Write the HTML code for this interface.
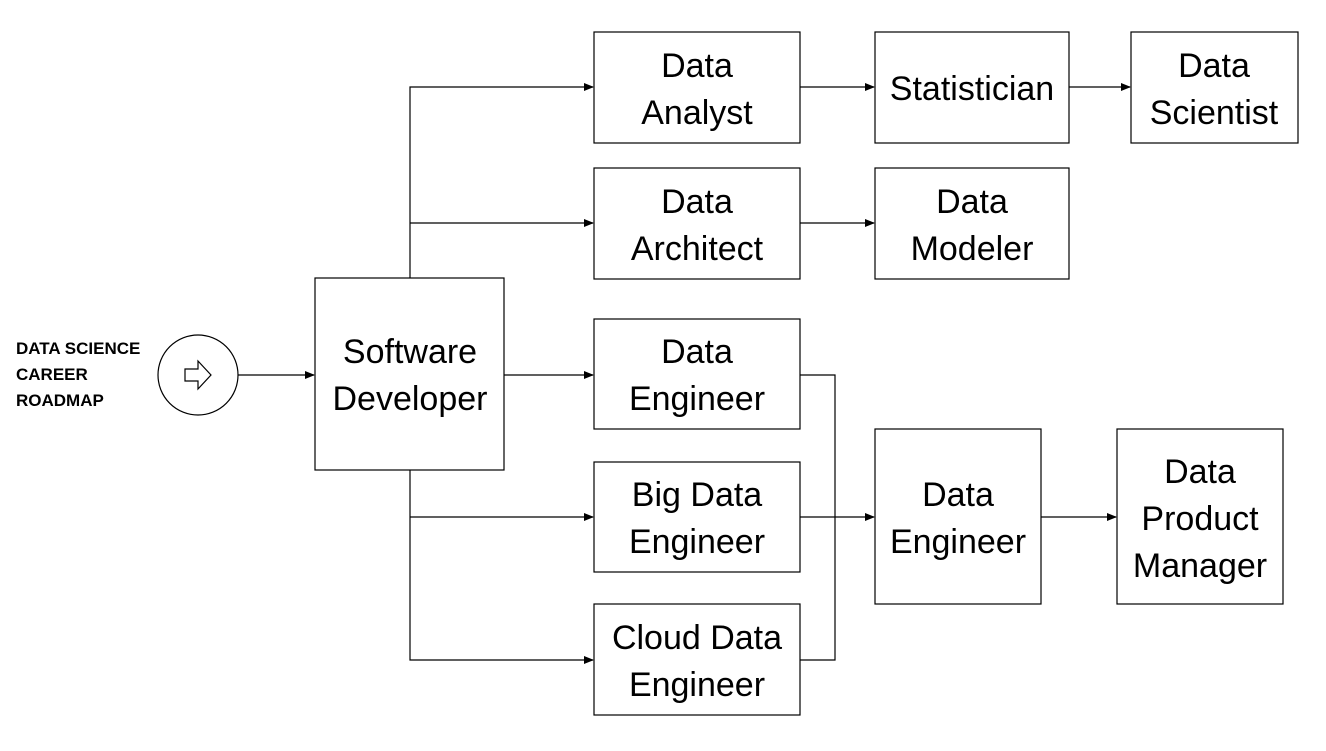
<!DOCTYPE html>
<html><head><meta charset="utf-8"><style>
body{margin:0;background:#fff;}
svg text{font-family:"Liberation Sans",sans-serif;}
</style></head><body>
<svg width="1326" height="746" viewBox="0 0 1326 746" xmlns="http://www.w3.org/2000/svg">
<defs><marker id="a" markerWidth="10" markerHeight="8" refX="9" refY="4" orient="auto" markerUnits="userSpaceOnUse"><path d="M0,0 L10,4 L0,8 z" fill="#000"/></marker></defs>
<g fill="#fff" stroke="#000" stroke-width="1.2">
<rect x="315" y="278" width="189" height="192"/>
<rect x="594" y="32" width="206" height="111"/>
<rect x="875" y="32" width="194" height="111"/>
<rect x="1131" y="32" width="167" height="111"/>
<rect x="594" y="168" width="206" height="111"/>
<rect x="875" y="168" width="194" height="111"/>
<rect x="594" y="319" width="206" height="110"/>
<rect x="594" y="462" width="206" height="110"/>
<rect x="594" y="604" width="206" height="111"/>
<rect x="875" y="429" width="166" height="175"/>
<rect x="1117" y="429" width="166" height="175"/>
<circle cx="198" cy="375" r="40"/>
<path d="M185,369 h13 v-8 l13,14 l-13,14 v-8 h-13 z"/>
</g>
<g fill="none" stroke="#000" stroke-width="1.2">
<path d="M238,375 H314" marker-end="url(#a)"/>
<path d="M410,278 V87 H593" marker-end="url(#a)"/>
<path d="M410,223 H593" marker-end="url(#a)"/>
<path d="M504,375 H593" marker-end="url(#a)"/>
<path d="M410,470 V660 H593" marker-end="url(#a)"/>
<path d="M410,517 H593" marker-end="url(#a)"/>
<path d="M800,87 H874" marker-end="url(#a)"/>
<path d="M1069,87 H1130" marker-end="url(#a)"/>
<path d="M800,223 H874" marker-end="url(#a)"/>
<path d="M800,375 H835 V660 H800"/>
<path d="M800,517 H874" marker-end="url(#a)"/>
<path d="M1041,517 H1116" marker-end="url(#a)"/>
</g>
<g font-size="17" font-weight="bold">
<text x="16" y="354">DATA SCIENCE</text>
<text x="16" y="380">CAREER</text>
<text x="16" y="406">ROADMAP</text>
</g>
<g font-size="34" text-anchor="middle">
<text x="410" y="363">Software</text><text x="410" y="410">Developer</text>
<text x="697" y="77">Data</text><text x="697" y="124">Analyst</text>
<text x="972" y="100">Statistician</text>
<text x="1214" y="77">Data</text><text x="1214" y="124">Scientist</text>
<text x="697" y="213">Data</text><text x="697" y="260">Architect</text>
<text x="972" y="213">Data</text><text x="972" y="260">Modeler</text>
<text x="697" y="363">Data</text><text x="697" y="410">Engineer</text>
<text x="697" y="506">Big Data</text><text x="697" y="553">Engineer</text>
<text x="697" y="649">Cloud Data</text><text x="697" y="696">Engineer</text>
<text x="958" y="506">Data</text><text x="958" y="553">Engineer</text>
<text x="1200" y="483">Data</text><text x="1200" y="530">Product</text><text x="1200" y="577">Manager</text>
</g>
</svg>
</body></html>
